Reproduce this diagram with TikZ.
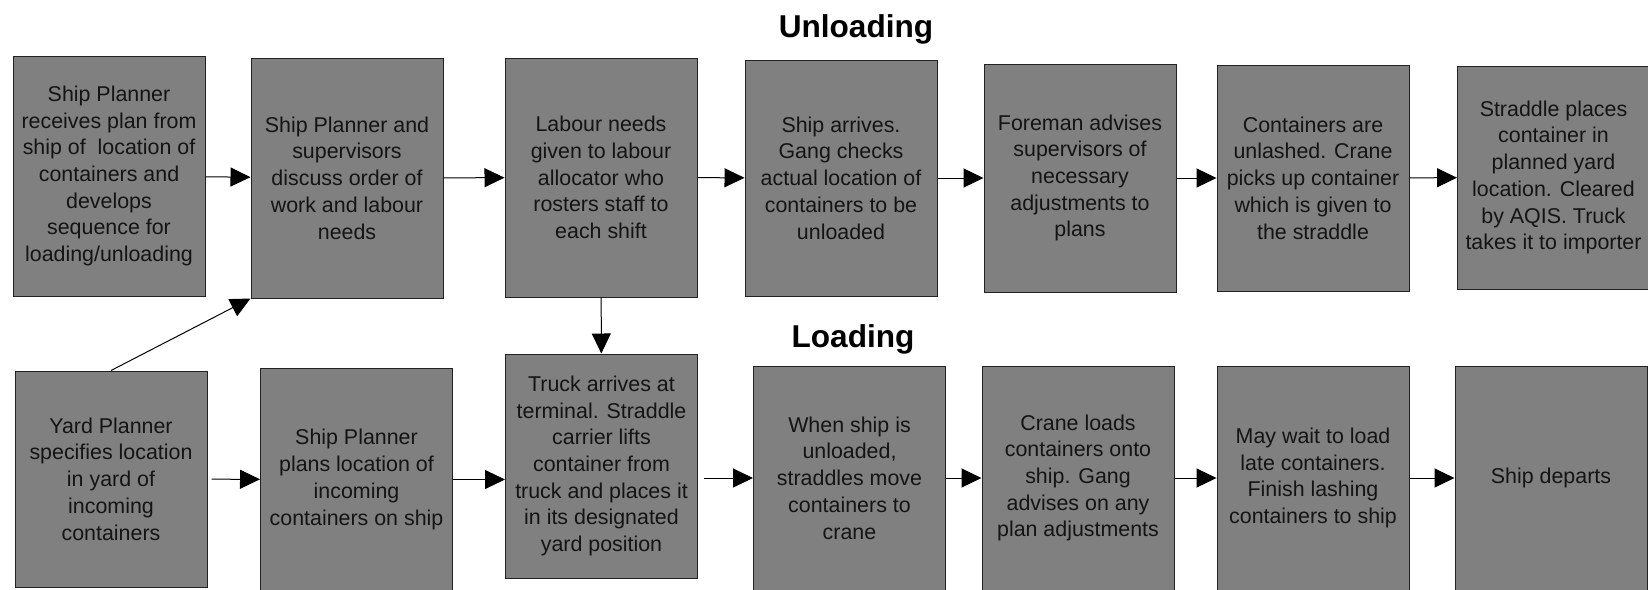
\documentclass[tikz,border=0pt]{standalone}
\usepackage{fontspec}
\setmainfont{Liberation Sans}
\usetikzlibrary{positioning, arrows.meta, calc}
\definecolor{boxfill}{HTML}{808080}
\definecolor{edge}{HTML}{222222}
\definecolor{txt}{HTML}{141414}

\begin{document}
\begin{tikzpicture}[
  x=0.5pt, y=-0.5pt,
  font=\fontsize{10.7}{13.35}\selectfont,
  task/.style={draw=edge, fill=boxfill, line width=0.5pt, minimum width=96pt, align=center, inner sep=1pt, text=txt},
  arr/.style={-{Triangle[length=10pt, width=9.5pt]}, line width=0.5pt, black},
  head/.style={font=\fontsize{15.8}{19}\selectfont\bfseries, inner sep=0pt, anchor=base}
]
  \useasboundingbox (0,0) rectangle (1648,589);
  \clip (0,0) rectangle (1648,589);
  \fill[white] (0,0) rectangle (1648,589);

  \node[head] (unl) at (856,37) {Unloading};
  \node[head] (lod) at (853,347) {Loading};

  % Unloading row
  \node[task, minimum height=120pt] (t1) at (109,176) {Ship Planner\\receives plan from\\ship of~ location of\\containers and\\develops\\sequence for\\loading/unloading};
  \node[task, minimum height=120pt] (t2) at (347,178) {Ship Planner and\\supervisors\\discuss order of\\work and labour\\needs};
  \node[task, minimum height=119.5pt] (t3) at (601,177.5) {Labour needs\\given to labour\\allocator who\\rosters staff to\\each shift};
  \node[task, minimum height=118pt] (t4) at (841,178) {Ship arrives.\\Gang checks\\actual location of\\containers to be\\unloaded};
  \node[task, minimum height=114pt] (t5) at (1080,178) {Foreman advises\\supervisors of\\necessary\\adjustments to\\plans};
  \node[task, minimum height=113pt] (t6) at (1313,178) {Containers are\\unlashed. Crane\\picks up container\\which is given to\\the straddle};
  \node[task, minimum height=111.5pt] (t7) at (1553.5,177.5) {Straddle places\\container in\\planned yard\\location. Cleared\\by AQIS. Truck\\takes it to importer};

  % Loading row
  \node[task, minimum height=108pt] (b1) at (111,479) {Yard Planner\\specifies location\\in yard of\\incoming\\containers};
  \node[task, minimum height=111pt] (b2) at (356.5,479.5) {Ship Planner\\plans location of\\incoming\\containers on ship};
  \node[task, minimum height=112pt] (b3) at (601.5,466) {Truck arrives at\\terminal. Straddle\\carrier lifts\\container from\\truck and places it\\in its designated\\yard position};
  \node[task, minimum height=112pt] (b4) at (849.5,478) {When ship is\\unloaded,\\straddles move\\containers to\\crane};
  \node[task, minimum height=112pt] (b5) at (1078,478) {Crane loads\\containers onto\\ship. Gang\\advises on any\\plan adjustments};
  \node[task, minimum height=112pt] (b6) at (1313,478) {May wait to load\\late containers.\\Finish lashing\\containers to ship};
  \node[task, minimum height=112pt] (b7) at (1551,478) {Ship departs};

  \draw[arr] (t1) -- (t2);
  \draw[arr] (t2) -- (t3);
  \draw[arr] (t3) -- (t4);
  \draw[arr] (t4) -- (t5);
  \draw[arr] (t5) -- (t6);
  \draw[arr] (t6) -- (t7);

  \draw[arr] (b1.north) -- (t2.south west);
  \draw[arr] (t3) -- (b3);

  \draw[arr, shorten <=2pt] (b1) -- (b2);
  \draw[arr] (b2) -- (b2 -| b3.west);
  \draw[arr, shorten <=3pt] (b3.east |- b4) -- (b4);
  \draw[arr] (b4) -- (b5);
  \draw[arr] (b5) -- (b6);
  \draw[arr] (b6) -- (b7);
\end{tikzpicture}
\end{document}
